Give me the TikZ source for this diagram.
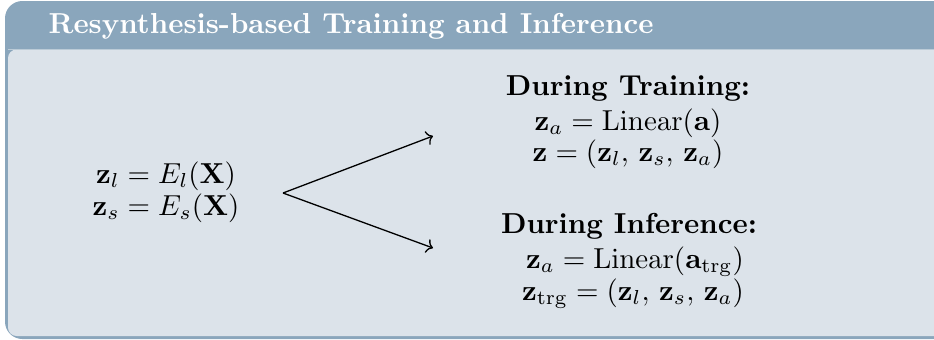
\documentclass[tikz,border=0pt]{standalone}
\usepackage{amsmath}
\usetikzlibrary{arrows.meta}
\definecolor{framecol}{HTML}{8AA6BC}
\definecolor{bodycol}{HTML}{DCE3EA}
\begin{document}
% coordinates are given in pixels from the top-left corner
\begin{tikzpicture}[x=0.3462pt,y=-0.3462pt,
  txt/.style={inner sep=0pt,anchor=base,text=black},
  headtxt/.style={txt,font=\bfseries},
  titletxt/.style={inner sep=0pt,anchor=base west,text=white,font=\bfseries},
  branch/.style={-{To[length=2.2pt,width=5pt]},line width=0.45pt,black}]
\useasboundingbox (0,0) rectangle (934,339);
\clip (0,0) rectangle (934,339);
% frame, title bar and body
\fill[framecol,rounded corners=6] (5,1) rectangle (960,339);
\fill[bodycol,rounded corners=3] (8,49.5) rectangle (960,336);
\fill[bodycol!60!framecol] (8,48.5) rectangle (960,49.5);
\node[titletxt] (title) at (48,33) {Resynthesis-based Training and Inference};
% shared encoders
\node[txt] (zl) at (166,183) {$\mathbf{z}_l = E_l(\mathbf{X})$};
\node[txt] (zs) at (166,215) {$\mathbf{z}_s = E_s(\mathbf{X})$};
% training branch
\node[headtxt] (trhead) at (628,95) {During Training:};
\node[txt] (trza) at (628,130) {$\mathbf{z}_a = \mathrm{Linear}(\mathbf{a})$};
\node[txt] (trz) at (628,161) {$\mathbf{z} = (\mathbf{z}_l,\, \mathbf{z}_s,\, \mathbf{z}_a)$};
% inference branch
\node[headtxt] (infhead) at (629,233) {During Inference:};
\node[txt] (infza) at (635,268) {$\mathbf{z}_a = \mathrm{Linear}(\mathbf{a}_{\mathrm{trg}})$};
\node[txt] (infz) at (633,300) {$\mathbf{z}_{\mathrm{trg}} = (\mathbf{z}_l,\, \mathbf{z}_s,\, \mathbf{z}_a)$};
% split arrows
\coordinate (split) at (283,193);
\coordinate (trtip) at (433,136);
\coordinate (inftip) at (433,248);
\draw[branch] (split) -- (trtip);
\draw[branch] (split) -- (inftip);
\end{tikzpicture}
\end{document}
